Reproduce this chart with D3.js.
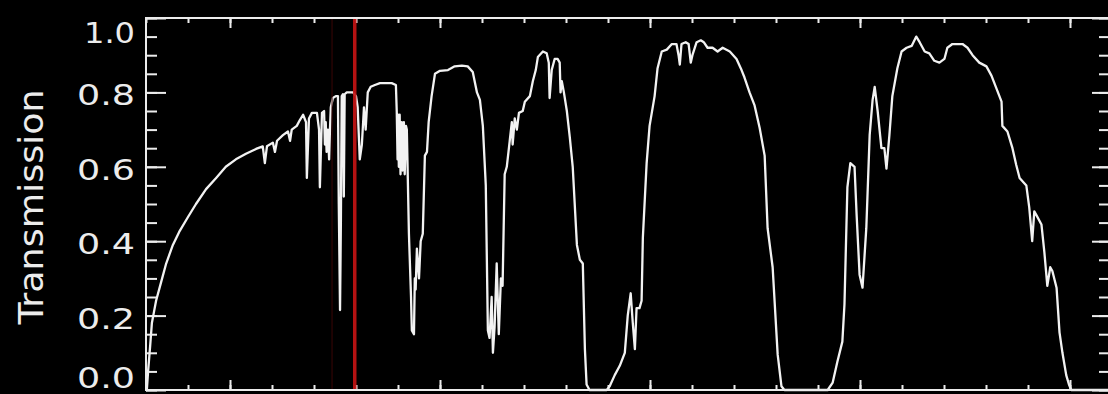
<!DOCTYPE html>
<html>
<head>
<meta charset="utf-8">
<script src="https://cdn.jsdelivr.net/npm/d3@7"></script>
<style>
  html, body { margin: 0; padding: 0; background: #000; }
  svg { display: block; }
</style>
</head>
<body>
<svg id="chart" width="1108" height="394"></svg>
<script>
// Atmospheric transmission, [wavelength (µm), transmission]
const spectrum = [
  [0.300,0.00],[0.302,0.00],[0.305,0.05],[0.310,0.12],[0.314,0.18],[0.319,0.21],[0.324,0.24],
  [0.336,0.29],[0.348,0.34],[0.364,0.39],[0.379,0.425],[0.400,0.465],[0.419,0.50],[0.443,0.54],
  [0.467,0.57],[0.490,0.60],[0.514,0.62],[0.538,0.635],[0.562,0.648],[0.578,0.655],[0.583,0.61],
  [0.588,0.655],[0.602,0.665],[0.607,0.64],[0.612,0.67],[0.626,0.685],[0.638,0.695],[0.643,0.67],
  [0.647,0.70],[0.659,0.71],[0.666,0.725],[0.674,0.74],[0.681,0.72],[0.683,0.57],[0.688,0.73],
  [0.695,0.745],[0.707,0.745],[0.712,0.70],[0.714,0.545],[0.719,0.745],[0.724,0.75],[0.726,0.66],
  [0.728,0.72],[0.730,0.64],[0.733,0.70],[0.736,0.62],[0.738,0.70],[0.740,0.76],[0.745,0.785],
  [0.752,0.79],[0.757,0.79],[0.759,0.50],[0.762,0.215],[0.764,0.45],[0.766,0.79],[0.769,0.795],
  [0.771,0.52],[0.773,0.795],[0.778,0.80],[0.785,0.80],[0.793,0.80],[0.800,0.79],[0.804,0.76],
  [0.809,0.62],[0.814,0.66],[0.819,0.76],[0.823,0.70],[0.828,0.80],[0.835,0.815],[0.845,0.82],
  [0.857,0.825],[0.871,0.825],[0.885,0.825],[0.895,0.82],[0.897,0.75],[0.899,0.62],[0.900,0.74],
  [0.902,0.60],[0.904,0.74],[0.906,0.58],[0.909,0.72],[0.911,0.59],[0.914,0.72],[0.916,0.58],
  [0.919,0.71],[0.921,0.70],[0.926,0.42],[0.931,0.25],[0.933,0.16],[0.938,0.15],[0.940,0.30],
  [0.942,0.27],[0.945,0.38],[0.950,0.30],[0.954,0.40],[0.959,0.42],[0.964,0.63],[0.969,0.64],
  [0.973,0.72],[0.980,0.79],[0.988,0.85],[1.000,0.858],[1.019,0.86],[1.035,0.87],[1.052,0.872],
  [1.066,0.87],[1.078,0.855],[1.088,0.80],[1.095,0.78],[1.102,0.71],[1.109,0.55],[1.114,0.16],
  [1.118,0.14],[1.123,0.25],[1.126,0.10],[1.130,0.17],[1.135,0.34],[1.140,0.15],[1.145,0.30],
  [1.149,0.28],[1.154,0.58],[1.159,0.60],[1.166,0.67],[1.171,0.72],[1.173,0.66],[1.178,0.73],
  [1.183,0.70],[1.188,0.745],[1.197,0.75],[1.202,0.775],[1.214,0.79],[1.221,0.83],[1.228,0.86],
  [1.233,0.895],[1.245,0.91],[1.254,0.905],[1.259,0.88],[1.261,0.785],[1.266,0.86],[1.273,0.89],
  [1.280,0.89],[1.285,0.88],[1.287,0.80],[1.290,0.83],[1.295,0.80],[1.302,0.75],[1.309,0.68],
  [1.316,0.60],[1.326,0.39],[1.333,0.35],[1.340,0.34],[1.345,0.11],[1.349,0.015],[1.356,0.00],
  [1.397,0.00],[1.404,0.01],[1.416,0.04],[1.428,0.065],[1.440,0.10],[1.447,0.20],[1.454,0.26],
  [1.459,0.18],[1.464,0.11],[1.468,0.22],[1.475,0.22],[1.480,0.24],[1.483,0.41],[1.492,0.61],
  [1.499,0.71],[1.511,0.79],[1.518,0.865],[1.528,0.91],[1.540,0.915],[1.552,0.93],[1.563,0.93],
  [1.568,0.90],[1.571,0.875],[1.575,0.93],[1.585,0.935],[1.592,0.93],[1.597,0.88],[1.601,0.90],
  [1.611,0.935],[1.621,0.94],[1.628,0.935],[1.637,0.92],[1.649,0.92],[1.661,0.91],[1.673,0.92],
  [1.690,0.91],[1.706,0.89],[1.718,0.86],[1.725,0.84],[1.737,0.80],[1.749,0.765],[1.761,0.705],
  [1.773,0.63],[1.780,0.435],[1.792,0.33],[1.804,0.095],[1.813,0.01],[1.820,0.00],[1.923,0.00],
  [1.935,0.02],[1.946,0.075],[1.958,0.13],[1.963,0.23],[1.970,0.545],[1.977,0.61],[1.987,0.60],
  [1.992,0.47],[1.999,0.31],[2.006,0.275],[2.015,0.435],[2.023,0.685],[2.030,0.78],[2.035,0.815],
  [2.042,0.75],[2.051,0.65],[2.058,0.65],[2.063,0.595],[2.070,0.685],[2.077,0.79],[2.089,0.865],
  [2.099,0.91],[2.111,0.92],[2.123,0.925],[2.134,0.95],[2.142,0.935],[2.154,0.91],[2.165,0.905],
  [2.177,0.885],[2.189,0.88],[2.201,0.89],[2.208,0.92],[2.220,0.93],[2.244,0.93],[2.256,0.92],
  [2.268,0.90],[2.284,0.88],[2.301,0.87],[2.313,0.845],[2.325,0.81],[2.337,0.775],[2.339,0.71],
  [2.351,0.695],[2.363,0.65],[2.372,0.605],[2.380,0.57],[2.396,0.55],[2.403,0.49],[2.410,0.40],
  [2.415,0.48],[2.420,0.47],[2.432,0.445],[2.439,0.37],[2.446,0.28],[2.453,0.33],[2.458,0.32],
  [2.468,0.275],[2.475,0.155],[2.482,0.10],[2.491,0.04],[2.498,0.013],[2.503,0.00],[2.600,0.00]
];

// Axis ranges and ticks
const xDomain = [0.3, 2.6];
const yDomain = [0.0, 1.0];
const xMajorTicks = [0.5, 1.0, 1.5, 2.0, 2.5];
const yMajorTicks = [0.0, 0.2, 0.4, 0.6, 0.8, 1.0];
const yTickLabels = ["0.0", "0.2", "0.4", "0.6", "0.8", "1.0"];
const yTitle = "Transmission";

// Marked wavelengths (µm)
const markerLine = 0.797;
const faintLine = 0.743;

const svg = d3.select("#chart");
const W = 1108, H = 394;
const plotLeft = 146, plotRight = 1112, plotTop = 18, plotBottom = 390;

svg.append("rect").attr("width", W).attr("height", H).attr("fill", "#000");

const x = d3.scaleLinear().domain(xDomain).range([plotLeft, plotRight]);
const y = d3.scaleLinear().domain(yDomain).range([plotBottom, plotTop]);

const ink = "#ececec";

// Minor and major ticks drawn inward on all four sides
function styleAxis(g) {
  g.select(".domain").remove();
  g.selectAll(".tick line").attr("stroke", ink).attr("stroke-width", 2);
  g.selectAll(".tick text").remove();
}
const xMinor = x.ticks(23);
const yMinor = y.ticks(20);

svg.append("g").attr("transform", `translate(0,${plotBottom})`)
  .call(d3.axisBottom(x).tickValues(xMinor).tickSize(-5)).call(styleAxis);
svg.append("g").attr("transform", `translate(0,${plotBottom})`)
  .call(d3.axisBottom(x).tickValues(xMajorTicks).tickSize(-10)).call(styleAxis);
svg.append("g").attr("transform", `translate(0,${plotTop})`)
  .call(d3.axisTop(x).tickValues(xMinor).tickSize(-5)).call(styleAxis);
svg.append("g").attr("transform", `translate(0,${plotTop})`)
  .call(d3.axisTop(x).tickValues(xMajorTicks).tickSize(-10)).call(styleAxis);

svg.append("g").attr("transform", `translate(${plotLeft},0)`)
  .call(d3.axisLeft(y).tickValues(yMinor).tickSize(-11)).call(styleAxis);
svg.append("g").attr("transform", `translate(${plotLeft},0)`)
  .call(d3.axisLeft(y).tickValues(yMajorTicks).tickSize(-20)).call(styleAxis);
svg.append("g").attr("transform", `translate(${plotRight},0)`)
  .call(d3.axisRight(y).tickValues(yMinor).tickSize(-13)).call(styleAxis);
svg.append("g").attr("transform", `translate(${plotRight},0)`)
  .call(d3.axisRight(y).tickValues(yMajorTicks).tickSize(-20)).call(styleAxis);

// Transmission curve
const line = d3.line().x(d => x(d[0])).y(d => y(d[1]));
svg.append("path")
  .datum(spectrum)
  .attr("d", line)
  .attr("fill", "none")
  .attr("stroke", "#f2f2f2")
  .attr("stroke-width", 2.3)
  .attr("stroke-linejoin", "round");

// Wavelength markers
svg.append("line")
  .attr("x1", x(faintLine)).attr("x2", x(faintLine))
  .attr("y1", plotTop).attr("y2", plotBottom)
  .attr("stroke", "#3a0505").attr("stroke-width", 1);
svg.append("line")
  .attr("x1", x(markerLine)).attr("x2", x(markerLine))
  .attr("y1", plotTop).attr("y2", plotBottom)
  .attr("stroke", "#c41414").attr("stroke-width", 3.5).attr("opacity", 0.92);

// Plot frame
svg.append("rect")
  .attr("x", plotLeft).attr("y", plotTop)
  .attr("width", plotRight - plotLeft).attr("height", plotBottom - plotTop)
  .attr("fill", "none").attr("stroke", ink).attr("stroke-width", 2);

// Y tick labels; the end labels are kept inside the axis span
const labelShift = v => v === 1.0 ? 25 : (v === 0.0 ? -2 : 13);
svg.append("g").selectAll("text")
  .data(yMajorTicks)
  .join("text")
  .attr("x", 135)
  .attr("y", d => y(d) + labelShift(d))
  .attr("text-anchor", "end")
  .attr("fill", ink)
  .attr("font-family", "DejaVu Sans, sans-serif")
  .attr("font-size", 29)
  .attr("textLength", (d, i) => yTickLabels[i].startsWith("1") ? 51 : 58)
  .attr("lengthAdjust", "spacingAndGlyphs")
  .text((d, i) => yTickLabels[i]);

// Y axis title
svg.append("text")
  .attr("transform", `translate(43,${(plotTop + plotBottom) / 2 + 3}) rotate(-90)`)
  .attr("text-anchor", "middle")
  .attr("fill", ink)
  .attr("font-family", "DejaVu Sans, sans-serif")
  .attr("font-size", 34)
  .attr("textLength", 235)
  .attr("lengthAdjust", "spacingAndGlyphs")
  .text(yTitle);
</script>
</body>
</html>
